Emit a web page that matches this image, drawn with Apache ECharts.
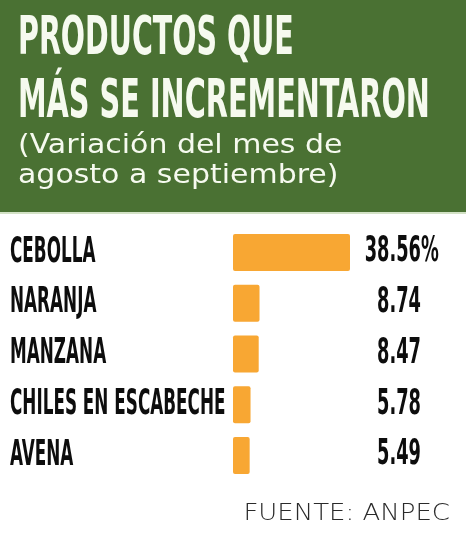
<!DOCTYPE html>
<html>
<head>
<meta charset="utf-8">
<script src="https://cdn.jsdelivr.net/npm/echarts@6/dist/echarts.min.js"></script>
<style>
  html, body { margin: 0; padding: 0; background: #fff; }
  #main { width: 466px; height: 536px; }
</style>
</head>
<body>
<div id="main"></div>
<script>
// datos: variación agosto -> septiembre (%)
var categories = ['CEBOLLA', 'NARANJA', 'MANZANA', 'CHILES EN ESCABECHE', 'AVENA'];
var values = [38.56, 8.74, 8.47, 5.78, 5.49];
var valueLabels = ['38.56', '8.74', '8.47', '5.78', '5.49'];
var unitLabels = ['%', '', '', '', ''];

var titleLines = ['PRODUCTOS QUE', 'MÁS SE INCREMENTARON'];
var subtitleLines = ['(Variación del mes de', 'agosto a septiembre)'];
var sourceText = 'FUENTE: ANPEC';

var NARROW = '"Liberation Sans Narrow", "DejaVu Sans Condensed", "Arial Narrow", sans-serif';
var ROUND = '"DejaVu Sans", "Open Sans", sans-serif';

var chart = echarts.init(document.getElementById('main'));

// nombres a la izquierda y valores a la derecha, alineados con cada barra
function renderLabels(params, api) {
  var idx = api.value(1);
  var yc = api.coord([0, idx])[1];
  var children = [
    {
      type: 'text', x: 10, y: yc, scaleX: 0.85, scaleY: 1.6,
      style: {
        text: categories[idx], fill: '#0d0d0d',
        fontSize: 22, fontWeight: 'bold', fontFamily: NARROW,
        align: 'left', verticalAlign: 'middle'
      }
    },
    {
      type: 'text', x: 421, y: yc, scaleX: 0.72, scaleY: 1.26,
      style: {
        text: valueLabels[idx], fill: '#0d0d0d',
        fontSize: 27.5, fontWeight: 'bold', fontFamily: NARROW,
        align: 'right', verticalAlign: 'middle'
      }
    }
  ];
  if (unitLabels[idx]) {
    children.push({
      type: 'text', x: 421, y: yc, scaleX: 0.72, scaleY: 1.26,
      style: {
        text: unitLabels[idx], fill: '#0d0d0d',
        fontSize: 27.5, fontWeight: 'bold', fontFamily: NARROW,
        align: 'left', verticalAlign: 'middle'
      }
    });
  }
  return { type: 'group', children: children };
}

var option = {
  backgroundColor: '#ffffff',
  animation: false,
  graphic: [
    { type: 'rect', shape: { x: 0, y: 0, width: 466, height: 212 }, style: { fill: '#4a7133' }, z: 0 },
    { type: 'rect', shape: { x: 0, y: 212, width: 466, height: 2 }, style: { fill: '#d3e2c6' }, z: 0 },
    {
      type: 'text', x: 18, y: 40.5, scaleX: 0.823, scaleY: 1.38, z: 1,
      style: { text: titleLines[0], fill: '#f6faef', fontSize: 38.5, fontWeight: 'bold', fontFamily: NARROW, verticalAlign: 'middle' }
    },
    {
      type: 'text', x: 18, y: 103, scaleX: 0.83, scaleY: 1.38, z: 1,
      style: { text: titleLines[1], fill: '#f6faef', fontSize: 38.5, fontWeight: 'bold', fontFamily: NARROW, verticalAlign: 'middle' }
    },
    {
      type: 'text', x: 18, y: 146, scaleX: 1.11, z: 1,
      style: { text: subtitleLines[0], fill: '#f6faef', fontSize: 27, fontFamily: ROUND, verticalAlign: 'middle' }
    },
    {
      type: 'text', x: 18, y: 176, scaleX: 1.11, z: 1,
      style: { text: subtitleLines[1], fill: '#f6faef', fontSize: 27, fontFamily: ROUND, verticalAlign: 'middle' }
    },
    {
      type: 'text', x: 450, y: 514, scaleX: 1.13, z: 1,
      style: { text: sourceText, fill: '#2a2a2a', fontSize: 23, fontWeight: 200, fontFamily: ROUND, align: 'right', verticalAlign: 'middle' }
    }
  ],
  grid: { left: 233, right: 116, top: 227, height: 253.75 },
  xAxis: { type: 'value', min: 0, max: 38.56, show: false },
  yAxis: { type: 'category', data: categories, inverse: true, show: false },
  series: [
    {
      type: 'bar',
      data: values,
      barWidth: 37,
      itemStyle: { color: '#f8a733', borderRadius: 2 },
      silent: true
    },
    {
      type: 'custom',
      renderItem: renderLabels,
      data: values.map(function (v, i) { return [v, i]; }),
      clip: false,
      silent: true,
      z: 3
    }
  ]
};

chart.setOption(option);
</script>
</body>
</html>
